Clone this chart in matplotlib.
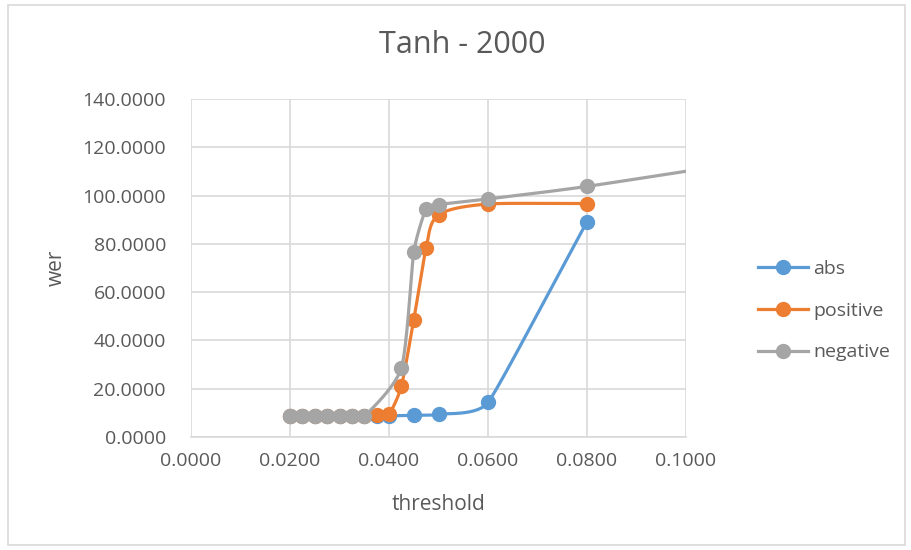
import matplotlib.pyplot as plt
import numpy as np
from matplotlib.patches import Rectangle
from matplotlib.ticker import FormatStrFormatter

# data
abs_x = [0.02, 0.0225, 0.025, 0.0275, 0.03, 0.0325, 0.035, 0.0375, 0.04, 0.045, 0.05, 0.06, 0.08]
abs_y = [8.5, 8.5, 8.5, 8.5, 8.5, 8.5, 8.5, 8.6, 8.7, 9.0, 9.4, 14.3, 89.2]

pos_x = [0.02, 0.0225, 0.025, 0.0275, 0.03, 0.0325, 0.035, 0.0375, 0.04, 0.0425, 0.045, 0.0475, 0.05, 0.06, 0.08]
pos_y = [8.5, 8.5, 8.5, 8.5, 8.5, 8.5, 8.6, 9.0, 9.5, 21.0, 48.5, 78.3, 92.0, 96.5, 96.7]

neg_x = [0.02, 0.0225, 0.025, 0.0275, 0.03, 0.0325, 0.035, 0.0425, 0.045, 0.0475, 0.05, 0.06, 0.08, 0.12]
neg_y = [8.5, 8.5, 8.5, 8.5, 8.8, 8.5, 8.6, 28.6, 76.6, 94.6, 96.3, 98.6, 103.8, 116.4]

names = ['abs', 'positive', 'negative']
colors = ['#5B9BD5', '#ED7D31', '#A5A5A5']

XMAX, YMAX = 0.1, 140.0


def tangent(pts, i):
    # direction through the neighbours, length limited by the shorter neighbouring segment
    a = pts[max(i - 1, 0)]
    b = pts[min(i + 1, len(pts) - 1)]
    d = b - a
    n = np.hypot(*d)
    if n == 0:
        return np.zeros(2)
    lens = []
    if i > 0:
        lens.append(np.hypot(*(pts[i] - pts[i - 1])))
    if i < len(pts) - 1:
        lens.append(np.hypot(*(pts[i + 1] - pts[i])))
    return d / n * min(lens) / 3


def smooth(xs, ys, n=30):
    # excel-like smoothed line, worked out in screen proportions
    px = np.asarray(xs) / XMAX * 495
    py = np.asarray(ys) / YMAX * 338
    pts = np.column_stack([px, py])
    out = [pts[0]]
    for i in range(len(pts) - 1):
        p1, p2 = pts[i], pts[i + 1]
        c1 = p1 + tangent(pts, i)
        c2 = p2 - tangent(pts, i + 1)
        t = np.linspace(0, 1, n)[1:, None]
        seg = (1 - t) ** 3 * p1 + 3 * (1 - t) ** 2 * t * c1 + 3 * (1 - t) * t ** 2 * c2 + t ** 3 * p2
        out.extend(seg)
    out = np.array(out)
    return out[:, 0] / 495 * XMAX, out[:, 1] / 338 * YMAX


plt.rcParams['font.family'] = ['Open Sans', 'DejaVu Sans']
txt = '#595959'

fig = plt.figure(figsize=(9.11, 5.5), dpi=100)
ax = fig.add_axes([191 / 911, 1 - 437 / 550, 495 / 911, 338 / 550])

for xs, ys, name, c in zip([abs_x, pos_x, neg_x], [abs_y, pos_y, neg_y], names, colors):
    sx, sy = smooth(xs, ys)
    ax.plot(sx, sy, color=c, lw=2.3, solid_capstyle='round')
    ax.plot(xs, ys, 'o', color=c, ms=10, mec=c)
    ax.plot([], [], '-o', color=c, lw=2.3, ms=10, label=name)

ax.set_xlim(0, XMAX)
ax.set_ylim(0, YMAX)
ax.set_xticks(np.arange(0, 0.1001, 0.02))
ax.set_yticks(np.arange(0, 141, 20))
ax.xaxis.set_major_formatter(FormatStrFormatter('%.4f'))
ax.yaxis.set_major_formatter(FormatStrFormatter('%.4f'))
ax.grid(True, color='#D9D9D9', lw=1.2)
ax.set_axisbelow(True)
for s in ['top', 'right', 'left']:
    ax.spines[s].set_visible(False)
ax.spines['bottom'].set_color('#D9D9D9')
ax.spines['bottom'].set_linewidth(1.2)
ax.tick_params(length=0, labelsize=14, labelcolor=txt)
ax.tick_params(axis='x', pad=11)
ax.tick_params(axis='y', pad=18)

fig.text(438.5 / 911, 1 - 505 / 550, 'threshold', ha='center', va='center', fontsize=15, color=txt)
fig.text(56 / 911, 1 - 268 / 550, 'wer', ha='center', va='center', rotation=90, fontsize=15, color=txt)
fig.text(462 / 911, 1 - 45 / 550, 'Tanh - 2000', ha='center', va='center', fontsize=22, color=txt)

fig.legend(loc='center left', bbox_to_anchor=(750 / 911, 1 - 310.5 / 550), frameon=False,
           borderaxespad=0, fontsize=14, handlelength=2.6, labelspacing=1.23, handletextpad=0.25,
           labelcolor=txt)

fig.patches.append(Rectangle((8 / 911, 5 / 550), 897 / 911, 540 / 550, transform=fig.transFigure,
                             fill=False, edgecolor='#D9D9D9', lw=1.2))

fig.savefig('out.png', dpi=100)
